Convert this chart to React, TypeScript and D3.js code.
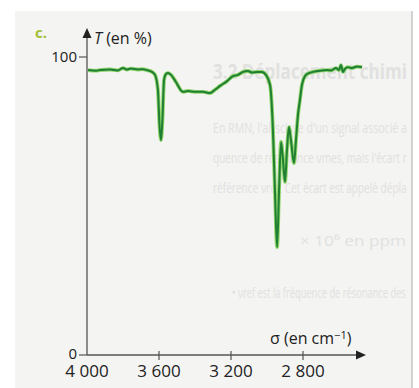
import React, { useLayoutEffect, useRef, useState } from "react";
import * as d3 from "d3";

const W = 419;
const H = 388;

// IR spectrum: wavenumber (cm-1) and transmittance (%)
const sigma = [
  3994, 3950, 3928, 3872, 3830, 3800, 3778, 3756, 3717, 3690, 3667, 3639, 3622,
  3606, 3597, 3589, 3581, 3572, 3561, 3550, 3533, 3506, 3467, 3439, 3400, 3356,
  3317, 3289, 3261, 3222, 3189, 3161, 3133, 3106, 3083, 3056, 3028, 3006, 2983,
  2967, 2956, 2944, 2933, 2922, 2911, 2900, 2889, 2878, 2867, 2850, 2839, 2828,
  2817, 2806, 2789, 2767, 2744, 2717, 2694, 2667, 2644, 2617, 2600, 2589, 2578,
  2567, 2550, 2528, 2500, 2472,
];
const transmittance = [
  95.6, 95.4, 95.6, 95.8, 95.5, 96.3, 95.8, 96.1, 95.8, 95.9, 95.6, 95.0, 94.0,
  88.9, 77.0, 72.1, 78.9, 92.3, 94.3, 94.6, 94.0, 91.6, 88.3, 88.6, 88.3, 88.3,
  87.9, 89.0, 90.3, 91.9, 93.6, 94.0, 95.0, 95.3, 94.8, 95.0, 95.0, 94.0, 90.6,
  75.5, 55.4, 36.2, 55.4, 71.5, 65.4, 58.1, 68.8, 76.5, 72.1, 64.4, 72.1, 80.5,
  85.6, 90.6, 93.6, 94.6, 95.0, 95.3, 95.5, 95.6, 95.5, 96.3, 95.6, 97.3, 95.0,
  96.0, 96.6, 96.3, 96.8, 96.6,
];

const xTicks = [4000, 3600, 3200, 2800];
const xTickLabels = ["4 000", "3 600", "3 200", "2 800"];
const yTicks = [0, 100];
const yTickLabels = ["0", "100"];

// faint show-through text of the textbook page, as far as it is visible
const ghostText = [
  "En RMN, l'abscisse d'un signal associé a",
  "quence de résonance νmes, mais l'écart r",
  "référence νref. Cet écart est appelé dépla",
];

const font = "'Open Sans', 'Noto Sans', sans-serif";

// squeezes a string horizontally so it spans exactly `width` px
function Squeezed(props: { x: number; y: number; width: number; size: number; bold?: boolean; children: string }) {
  const ref = useRef<SVGTextElement>(null);
  const [k, setK] = useState(1);
  useLayoutEffect(() => {
    if (ref.current) {
      const w = ref.current.getComputedTextLength();
      if (w > 0) setK(props.width / w);
    }
  }, [props.width, props.children]);
  return (
    <text
      ref={ref}
      transform={`translate(${props.x},${props.y}) scale(${k},1)`}
      fontSize={props.size}
      fontWeight={props.bold ? 700 : 400}
    >
      {props.children}
    </text>
  );
}

export default function App() {
  const x = d3.scaleLinear().domain([4000, 2800]).range([87, 303]);
  const y = d3.scaleLinear().domain([0, 100]).range([355, 57]);

  const pts: [number, number][] = sigma.map((s, i) => [s, transmittance[i]]);
  const line = d3
    .line<[number, number]>()
    .x((d) => x(d[0]))
    .y((d) => y(d[1]))
    .curve(d3.curveMonotoneX);
  const d = line(pts) || "";

  const x0 = x(4000);
  const y0 = y(0);
  const xEnd = 366;
  const yTop = 28;

  return (
    <svg
      width={W}
      height={H}
      style={{ position: "absolute", left: 0, top: 0, background: "#ffffff" }}
    >
      <rect x={15} y={11} width={397} height={377} fill="#f4f4f2" />
      <line x1={412} y1={11} x2={412} y2={H} stroke="#b8b8b8" strokeWidth={1.2} />

      <g fill="#e1e1df" style={{ fontFamily: font }}>
        <Squeezed x={213} y={79} width={194} size={22} bold>
          3.2 Déplacement chimi
        </Squeezed>
        {ghostText.map((t, i) => (
          <Squeezed key={i} x={213} y={133 + i * 30} width={194} size={14}>
            {t}
          </Squeezed>
        ))}
        <Squeezed x={300} y={246} width={106} size={14}>
          × 10⁶ en ppm
        </Squeezed>
        <Squeezed x={232} y={298} width={174} size={14}>
          • νref est la fréquence de résonance des
        </Squeezed>
      </g>

      <text
        x={35}
        y={38}
        fill="#a2bf36"
        style={{ fontFamily: font, fontSize: "15px", fontWeight: 700 }}
      >
        c.
      </text>

      {/* axes */}
      <line x1={x0} y1={y0} x2={x0} y2={yTop + 8} stroke="#555" strokeWidth={1.3} />
      <path
        d={`M${x0},${yTop} L${x0 - 4.5},${yTop + 10} L${x0 + 4.5},${yTop + 10} Z`}
        fill="#222"
      />
      <line x1={x0} y1={y0} x2={xEnd - 8} y2={y0} stroke="#555" strokeWidth={1.3} />
      <path
        d={`M${xEnd},${y0} L${xEnd - 10},${y0 - 4.5} L${xEnd - 10},${y0 + 4.5} Z`}
        fill="#222"
      />

      {yTicks.map((t, i) => (
        <g key={t}>
          <line x1={x0 - 8} x2={x0} y1={y(t)} y2={y(t)} stroke="#555" strokeWidth={1.2} />
          <text
            x={x0 - 10}
            y={y(t) + (t === 0 ? 3.5 : 5)}
            textAnchor="end"
            fill="#222"
            style={{ fontFamily: font, fontSize: "15px" }}
          >
            {yTickLabels[i]}
          </text>
        </g>
      ))}

      {xTicks.map((t, i) => (
        <g key={t}>
          {i > 0 && (
            <line x1={x(t)} x2={x(t)} y1={y0 - 4} y2={y0 + 5} stroke="#555" strokeWidth={1.2} />
          )}
          <text
            x={x(t)}
            y={y0 + 22}
            textAnchor="middle"
            fill="#222"
            style={{ fontFamily: font, fontSize: "17px" }}
          >
            {xTickLabels[i]}
          </text>
        </g>
      ))}

      <text x={94} y={44} fill="#222" style={{ fontFamily: font, fontSize: "16px" }}>
        <tspan fontStyle="italic">T</tspan> (en %)
      </text>
      <text x={270} y={344} fill="#222" style={{ fontFamily: font, fontSize: "16px" }}>
        σ (en cm<tspan dy={-5} fontSize={11}>−1</tspan>
        <tspan dy={5}>)</tspan>
      </text>

      {/* spectrum */}
      <path d={d} fill="none" stroke="#8fd46a" strokeWidth={3.8} strokeLinejoin="round" />
      <path d={d} fill="none" stroke="#1f7f33" strokeWidth={2} strokeLinejoin="round" />
    </svg>
  );
}
